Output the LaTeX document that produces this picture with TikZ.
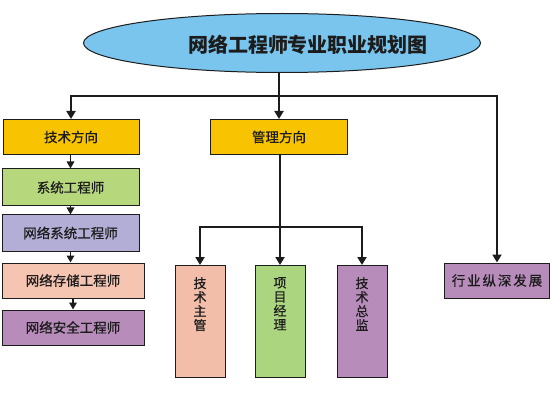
\documentclass[tikz,border=0pt]{standalone}
\usepackage{fontspec}
\setmainfont{Noto Sans CJK SC}
\newfontfamily\boxfont[FakeBold=0.6]{Noto Sans CJK SC}
\newfontfamily\spacedfont[LetterSpace=14,FakeBold=0.6]{Noto Sans CJK SC}
\usetikzlibrary{shapes.geometric,arrows.meta}

\definecolor{skyblue}{HTML}{7AC5EE}
\definecolor{gold}{HTML}{F8C300}
\definecolor{leaf}{HTML}{B6D77C}
\definecolor{leafpm}{HTML}{ACD580}
\definecolor{lavender}{HTML}{B3AED6}
\definecolor{peach}{HTML}{F5C5B2}
\definecolor{peachlead}{HTML}{F2BEAA}
\definecolor{mauve}{HTML}{B88CBA}
\definecolor{ink}{HTML}{1C1C1C}

\begin{document}
\begin{tikzpicture}[
    x=1pt, y=-1pt,
    every node/.style={font=\boxfont\fontsize{13.5}{15}\selectfont, text=ink},
    box/.style={rectangle, draw=ink, line width=1pt, inner sep=0pt, minimum height=35pt},
    tall/.style={box, minimum width=50pt, minimum height=112pt, anchor=north},
    vtext/.style={anchor=north, yshift=-12pt, inner sep=0pt, align=center,
        font=\boxfont\fontsize{13}{14}\selectfont},
    link/.style={line width=2pt, draw=ink},
    arr/.style={link, -{Triangle[length=8pt,width=9pt]}},
    shortarr/.style={link, line width=1.6pt, -{Triangle[length=7pt,width=7.5pt]}}
]
\useasboundingbox (0,0) rectangle (550,420);

% Title
\node[ellipse, draw=ink, line width=1pt, fill=skyblue,
    minimum width=397pt, minimum height=59pt] (plan) at (282,43) {};
\node[font=\rmfamily\bfseries\fontsize{20}{22}\selectfont] (plantext) at (308,45) {网络工程师专业职业规划图};

% Technical track
\node[box, fill=gold, minimum width=136pt] (tech) at (71,137) {技术方向};
\node[box, fill=leaf, minimum width=137pt, minimum height=37pt] (sys) at (70.5,187.5) {系统工程师};
\node[box, fill=lavender, minimum width=137pt, minimum height=36pt] (netsys) at (70.5,233) {网络系统工程师};
\node[box, fill=peach, minimum width=142pt] (storage) at (73,280.5) {网络存储工程师};
\node[box, fill=mauve, minimum width=142pt] (security) at (73,327.5) {网络安全工程师};

% Management track
\node[box, fill=gold, minimum width=137pt] (mgmt) at (279,137) {管理方向};
\node[tall, fill=peachlead, label={[vtext]north:技\\术\\主\\管}] (lead) at (200,265) {};
\node[tall, fill=leafpm, label={[vtext]north:项\\目\\经\\理}] (pm) at (280,265) {};
\node[tall, fill=mauve, label={[vtext]north:技\\术\\总\\监}] (chief) at (362,265) {};

% Industry track
\node[box, fill=mauve, minimum width=105pt] (deep) at (497,280.5) {\spacedfont 行业纵深发展};

% Edges
\coordinate (split) at (279,96);
\coordinate (fork) at (280,227);

\draw[link] (plan.south -| split) -- (split);
\draw[arr] (split) -| (tech.north);
\draw[arr] (split) -- (mgmt.north);
\draw[arr] (split) -| (deep.north);

\draw[shortarr] (tech.south -| sys.north) -- (sys.north);
\draw[shortarr] (sys.south) -- (netsys.north);
\draw[shortarr] (netsys.south) -- (netsys.south |- storage.north);
\draw[shortarr] (storage.south) -- (security.north);

\draw[link] (mgmt.south -| fork) -- (fork);
\draw[arr] (fork) -| (lead.north);
\draw[arr] (fork) -- (pm.north);
\draw[arr] (fork) -| (chief.north);

\end{tikzpicture}
\end{document}
